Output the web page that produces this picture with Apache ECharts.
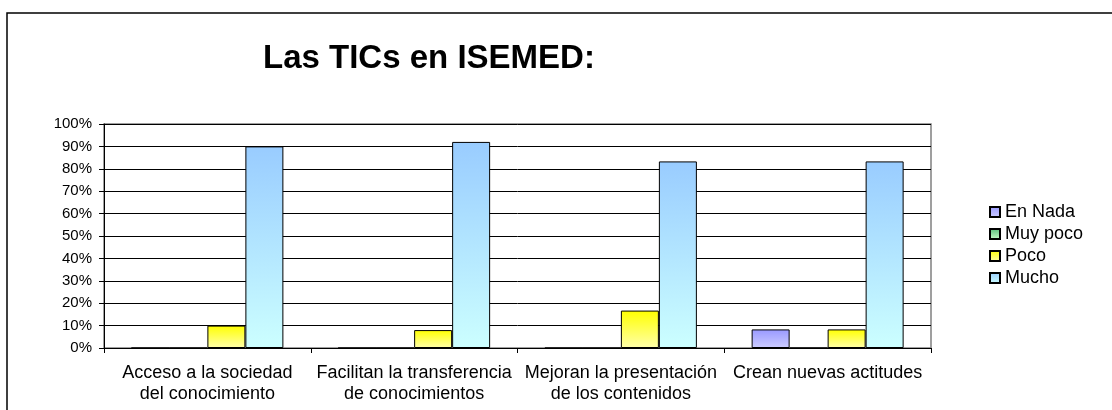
<!DOCTYPE html>
<html>
<head>
<meta charset="utf-8">
<script src="https://cdn.jsdelivr.net/npm/echarts@6/dist/echarts.min.js"></script>
<style>
    html, body { margin: 0; padding: 0; background: #fff; }
    #main { width: 1112px; height: 410px; }
</style>
</head>
<body>
<div id="main"></div>
<script>
    // datos
    var categorias = ['Acceso a la sociedad\ndel conocimiento', 'Facilitan la transferencia\nde conocimientos', 'Mejoran la presentación\nde los contenidos', 'Crean nuevas actitudes'];
    var enNada = [0, 0, 0, 8.3];
    var muyPoco = [0, 0, 0, 0];
    var poco = [10, 8, 16.7, 8.3];
    var mucho = [90, 92, 83.3, 83.3];

    function grad(top, bottom) {
        return new echarts.graphic.LinearGradient(0, 0, 0, 1, [
            {offset: 0, color: top},
            {offset: 1, color: bottom}
        ]);
    }

    function serie(nombre, datos, c1, c2) {
        return {
            name: nombre,
            type: 'bar',
            data: datos,
            barWidth: 38,
            barGap: '0%',
            itemStyle: {
                color: grad(c1, c2),
                borderColor: '#000',
                borderWidth: 1
            },
            emphasis: {disabled: true}
        };
    }

    var font = 'Arial, "Liberation Sans", sans-serif';
    var myChart = echarts.init(document.getElementById('main'));
    var option = {
        animation: false,
        title: {
            text: 'Las TICs en ISEMED:',
            left: 258,
            top: 37,
            textStyle: {
                color: '#000',
                fontSize: 33,
                fontWeight: 'bold',
                fontFamily: font
            }
        },
        graphic: [{
            type: 'rect',
            shape: {x: 7, y: 13, width: 1200, height: 500},
            style: {fill: 'none', stroke: '#000', lineWidth: 1.5}
        }],
        legend: {
            orient: 'vertical',
            left: 984,
            top: 198,
            icon: 'rect',
            itemWidth: 10,
            itemHeight: 10,
            itemGap: 4,
            data: ['En Nada', 'Muy poco', 'Poco', 'Mucho'],
            textStyle: {
                color: '#000',
                fontSize: 18,
                fontFamily: font,
                padding: [0, 0, 0, 0]
            }
        },
        grid: {
            left: 104,
            right: 181,
            top: 124,
            bottom: 62,
            show: true,
            borderColor: '#808080',
            borderWidth: 1.5,
            containLabel: false
        },
        xAxis: {
            type: 'category',
            data: categorias,
            axisLine: {lineStyle: {color: '#000', width: 1}},
            axisTick: {show: true, length: 5, lineStyle: {color: '#000'}},
            axisLabel: {
                color: '#000',
                fontSize: 18,
                fontFamily: font,
                lineHeight: 21,
                margin: 15,
                interval: 0
            }
        },
        yAxis: {
            type: 'value',
            min: 0,
            max: 100,
            interval: 10,
            axisLine: {show: true, lineStyle: {color: '#000', width: 1}},
            axisTick: {show: true, length: 5, lineStyle: {color: '#000'}},
            axisLabel: {
                color: '#000',
                fontSize: 15,
                fontFamily: font,
                margin: 12,
                formatter: '{value}%'
            },
            splitLine: {lineStyle: {color: '#000', width: 1}}
        },
        series: [
            serie('En Nada', enNada, '#9999ff', '#ccccff'),
            serie('Muy poco', muyPoco, '#55bb77', '#ccffcc'),
            serie('Poco', poco, '#ffff00', '#ffffaa'),
            serie('Mucho', mucho, '#99ccff', '#ccffff')
        ]
    };

    myChart.setOption(option);
</script>
</body>
</html>
